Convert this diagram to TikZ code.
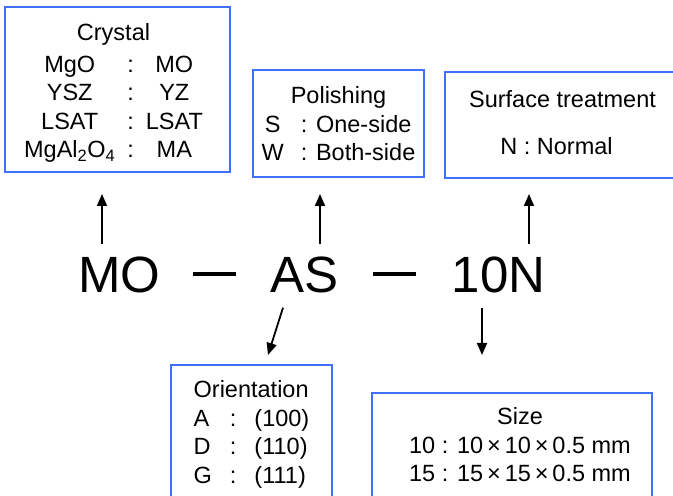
\documentclass[tikz,border=0pt]{standalone}
\usepackage{fontspec}
\setmainfont{Liberation Sans}
\usepackage{xcolor}
\usetikzlibrary{arrows.meta,positioning}
\definecolor{boxblue}{RGB}{64,112,255}

\begin{document}
\begin{tikzpicture}[
  x=1pt, y=1pt,
  every node/.style={font=\fontsize{23.5}{28.5}\selectfont},
  infobox/.style={rectangle, draw=boxblue, line width=2pt, inner sep=0pt},
  code/.style={font=\fontsize{51}{60}\selectfont, inner sep=0pt, anchor=base},
  dashbar/.style={inner sep=0pt},
  pointer/.style={->, line width=1.8pt},
  >={Triangle[length=12pt,width=10pt]}
]
  \useasboundingbox (0,0) rectangle (673,496);
  \clip (0,0) rectangle (673,496);

  % boxes on top
  \node[infobox, minimum width=225pt, minimum height=165pt] (crystal) at (117.5,406.5) {%
    \raisebox{-4pt}[\height][\depth]{%
    \begin{tabular}{@{}c@{\hspace{12pt}}c@{\hspace{12pt}}c@{}}
      \multicolumn{3}{c}{Crystal}\\[3.5pt]
      MgO & : & MO\\
      YSZ & : & YZ\\
      LSAT & : & LSAT\\
      MgAl\textsubscript{2}O\textsubscript{4} & : & MA
    \end{tabular}}\hspace*{8pt}};
  \node[infobox, minimum width=171pt, minimum height=107pt] (polish) at (338.5,372.5) {%
    \raisebox{-3pt}[\height][\depth]{%
    \begin{tabular}{@{}c@{\hspace{17pt}}l@{}}
      \multicolumn{2}{c}{Polishing}\\
      S & : One-side\\
      W & : Both-side
    \end{tabular}}};
  \node[infobox, minimum width=235pt, minimum height=106pt] (surface) at (562.5,371) {%
    \begin{tabular}{@{}c@{}}
      Surface treatment\\[18.5pt]
      N : Normal\hspace*{12pt}
    \end{tabular}};

  % the code
  \node[code] (mo) at (119.5,203) {MO};
  \node[dashbar] (dash1) at (214.5,222) {\rule{43pt}{4.5pt}};
  \node[code] (as) at (304.5,203) {AS};
  \node[dashbar] (dash2) at (394.5,222) {\rule{43pt}{4.5pt}};
  \node[code] (tenn) at (498.5,203) {10N};

  % boxes below
  \node[infobox, anchor=north, minimum width=161pt, inner ysep=13pt] (orient) at (251.5,132) {%
    \begin{tabular}{@{}l@{\hspace{18pt}}c@{\hspace{18pt}}l@{}}
      \multicolumn{3}{@{}l@{}}{Orientation}\\
      A & : & (100)\\
      D & : & (110)\\
      G & : & (111)
    \end{tabular}};
  \node[infobox, anchor=north, minimum width=280pt, inner ysep=12pt] (size) at (512,104) {%
    \hspace*{16pt}%
    \begin{tabular}{@{}c@{}}
      Size\\
      10 : 10\,×\,10\,×\,0.5 mm\\
      15 : 15\,×\,15\,×\,0.5 mm
    \end{tabular}};

  \draw[pointer] ([xshift=-17.5pt,yshift=13pt]mo.north) -- ([xshift=-15.5pt,yshift=-21pt]crystal.south);
  \draw[pointer] ([xshift=15.5pt,yshift=13pt]as.north) -- ([xshift=-18.5pt,yshift=-16pt]polish.south);
  \draw[pointer] ([xshift=30.5pt,yshift=13pt]tenn.north) -- ([xshift=-33.5pt,yshift=-15pt]surface.south);
  \draw[pointer] ([xshift=-21.5pt,yshift=-14pt]as.south) -- ([xshift=16.5pt,yshift=9pt]orient.north);
  \draw[pointer] ([xshift=-16.5pt,yshift=-14pt]tenn.south) -- ([xshift=-30pt,yshift=37pt]size.north);
\end{tikzpicture}
\end{document}
